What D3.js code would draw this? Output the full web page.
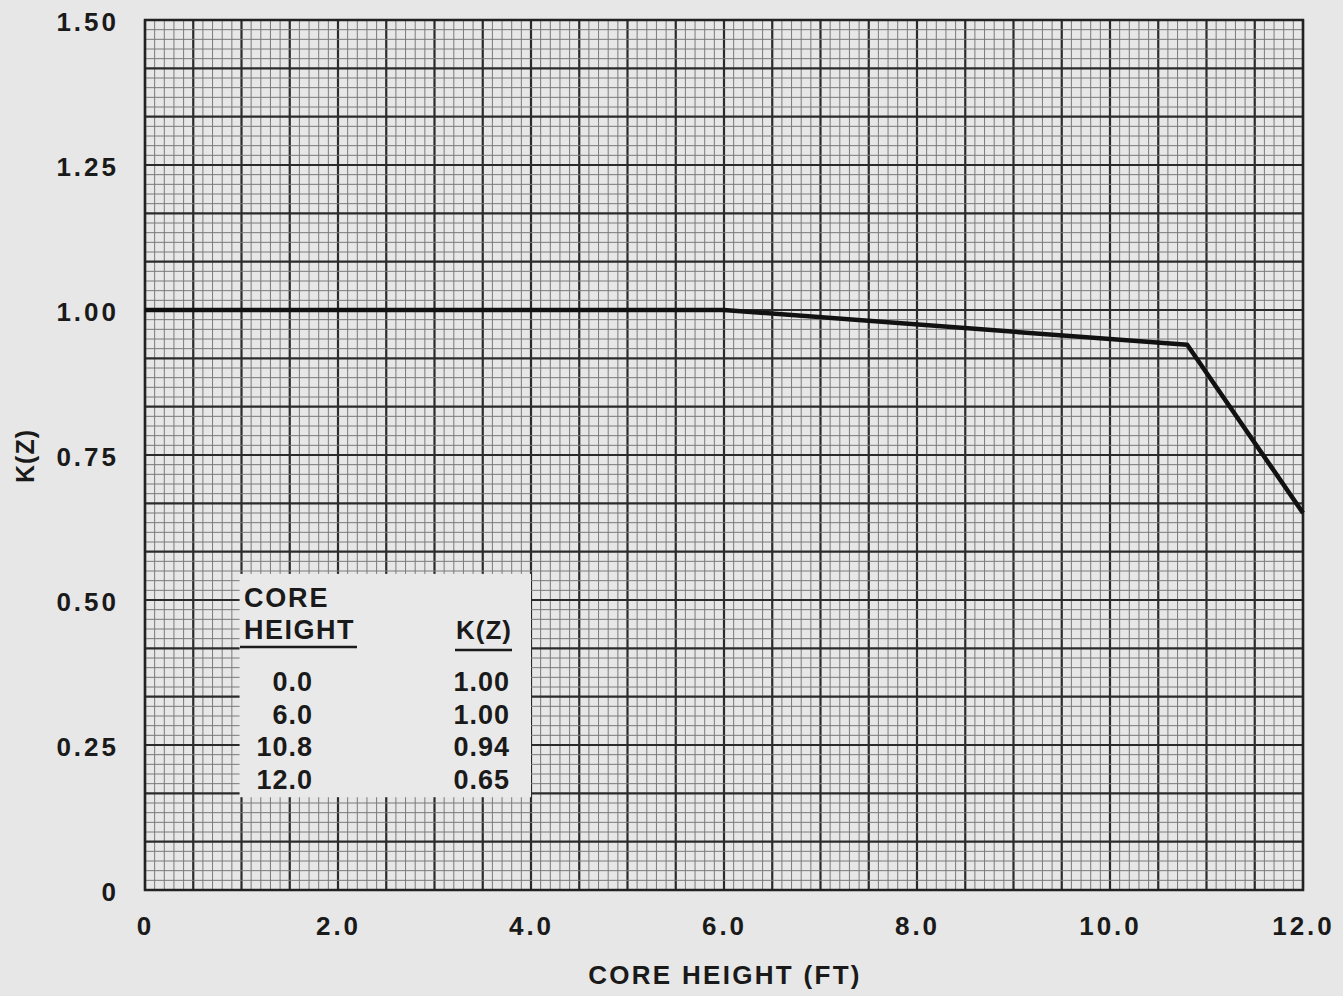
<!DOCTYPE html>
<html>
<head>
<meta charset="utf-8">
<script src="https://cdn.jsdelivr.net/npm/d3@7"></script>
<style>
  html, body { margin: 0; padding: 0; background: #e7e7e7; }
  svg { display: block; }
  text { font-family: "Liberation Sans", Arial, sans-serif; font-weight: bold; fill: #1a1a1a; }
</style>
</head>
<body>
<div id="chart"></div>
<script>
// Curve points (core height in ft, K(Z))
const coreHeight = [0.0, 6.0, 10.8, 12.0];
const kz = [1.00, 1.00, 0.94, 0.65];

// Axis ticks
const xTicks = [0, 2, 4, 6, 8, 10, 12];
const xTickLabels = ["0", "2.0", "4.0", "6.0", "8.0", "10.0", "12.0"];
const yTicks = [0, 0.25, 0.5, 0.75, 1.0, 1.25, 1.5];
const yTickLabels = ["0", "0.25", "0.50", "0.75", "1.00", "1.25", "1.50"];

const width = 1343;
const height = 996;
const margin = {top: 20, right: 40, bottom: 106, left: 145};

const svg = d3.select("#chart")
    .append("svg")
    .attr("width", width)
    .attr("height", height);

const xScale = d3.scaleLinear()
    .domain([0, 12])
    .range([margin.left, width - margin.right]);

const yScale = d3.scaleLinear()
    .domain([0, 1.5])
    .range([height - margin.bottom, margin.top]);

// Graph paper: minor every 0.1 ft / 1/60, heavy every 0.5 ft / 1/12
const grid = svg.append("g");
d3.range(0, 121).forEach(i => {
    const heavy = i % 5 === 0;
    grid.append("line")
        .attr("x1", xScale(i / 10)).attr("x2", xScale(i / 10))
        .attr("y1", yScale(0)).attr("y2", yScale(1.5))
        .attr("stroke", heavy ? "#2b2b2b" : "#7a7a7a")
        .attr("stroke-width", heavy ? 2.2 : 1);
});
d3.range(0, 91).forEach(i => {
    const heavy = i % 5 === 0;
    grid.append("line")
        .attr("x1", xScale(0)).attr("x2", xScale(12))
        .attr("y1", yScale(i / 60)).attr("y2", yScale(i / 60))
        .attr("stroke", heavy ? "#2b2b2b" : "#7a7a7a")
        .attr("stroke-width", heavy ? 2.2 : 1);
});

// Border
svg.append("rect")
    .attr("x", xScale(0)).attr("y", yScale(1.5))
    .attr("width", xScale(12) - xScale(0))
    .attr("height", yScale(0) - yScale(1.5))
    .attr("fill", "none")
    .attr("stroke", "#222")
    .attr("stroke-width", 2.5);

// X axis labels
svg.append("g")
    .attr("transform", `translate(0,${yScale(0)})`)
    .call(d3.axisBottom(xScale).tickValues(xTicks).tickSize(0).tickPadding(27)
        .tickFormat((d, i) => xTickLabels[i]))
    .call(g => g.select(".domain").remove())
    .selectAll("text")
    .style("font-size", "26px")
    .style("letter-spacing", "3px")
    .attr("fill", "#1a1a1a");

// Y axis labels
svg.append("g")
    .attr("transform", `translate(${margin.left},0)`)
    .call(d3.axisLeft(yScale).tickValues(yTicks).tickSize(0).tickPadding(26)
        .tickFormat((d, i) => yTickLabels[i]))
    .call(g => g.select(".domain").remove())
    .selectAll("text")
    .attr("dy", "0.42em")
    .style("font-size", "26px")
    .style("letter-spacing", "3px")
    .attr("fill", "#1a1a1a");

// Axis titles
svg.append("text")
    .attr("x", 725)
    .attr("y", 984)
    .attr("text-anchor", "middle")
    .style("font-size", "26px")
    .style("letter-spacing", "2.3px")
    .text("CORE HEIGHT (FT)");

svg.append("text")
    .attr("transform", "translate(34,456) rotate(-90)")
    .attr("text-anchor", "middle")
    .style("font-size", "25px")
    .style("letter-spacing", "1px")
    .text("K(Z)");

// K(Z) curve
const points = coreHeight.map((h, i) => ({h, k: kz[i]}));
const line = d3.line()
    .x(d => xScale(d.h))
    .y(d => yScale(d.k));

svg.append("path")
    .datum(points)
    .attr("fill", "none")
    .attr("stroke", "#111")
    .attr("stroke-width", 4.5)
    .attr("stroke-linejoin", "round")
    .attr("d", line);

// Table box
const box = svg.append("g");
box.append("rect")
    .attr("x", xScale(0.98))
    .attr("y", yScale(0.545))
    .attr("width", xScale(4.0) - xScale(0.98))
    .attr("height", yScale(0.16) - yScale(0.545))
    .attr("fill", "#e9e9e9");

const colA = 313, colB = 510;
box.append("text").attr("x", 244).attr("y", 607)
    .style("font-size", "27px").style("letter-spacing", "1.8px").text("CORE");
box.append("text").attr("x", 244).attr("y", 639)
    .style("font-size", "27px").style("letter-spacing", "1.5px").text("HEIGHT");
box.append("line")
    .attr("x1", 240).attr("x2", 357).attr("y1", 647).attr("y2", 647)
    .attr("stroke", "#1a1a1a").attr("stroke-width", 2.5);
box.append("text").attr("x", colB + 2).attr("y", 639).attr("text-anchor", "end")
    .style("font-size", "26px").style("letter-spacing", "1px").text("K(Z)");
box.append("line")
    .attr("x1", 455).attr("x2", 512).attr("y1", 650).attr("y2", 650)
    .attr("stroke", "#1a1a1a").attr("stroke-width", 2.5);

points.forEach((d, i) => {
    const y = 691 + i * 32.5;
    box.append("text").attr("x", colA).attr("y", y).attr("text-anchor", "end")
        .style("font-size", "27px").style("letter-spacing", "1px")
        .text(d3.format(".1f")(d.h));
    box.append("text").attr("x", colB).attr("y", y).attr("text-anchor", "end")
        .style("font-size", "27px").style("letter-spacing", "1px")
        .text(d3.format(".2f")(d.k));
});
</script>
</body>
</html>
